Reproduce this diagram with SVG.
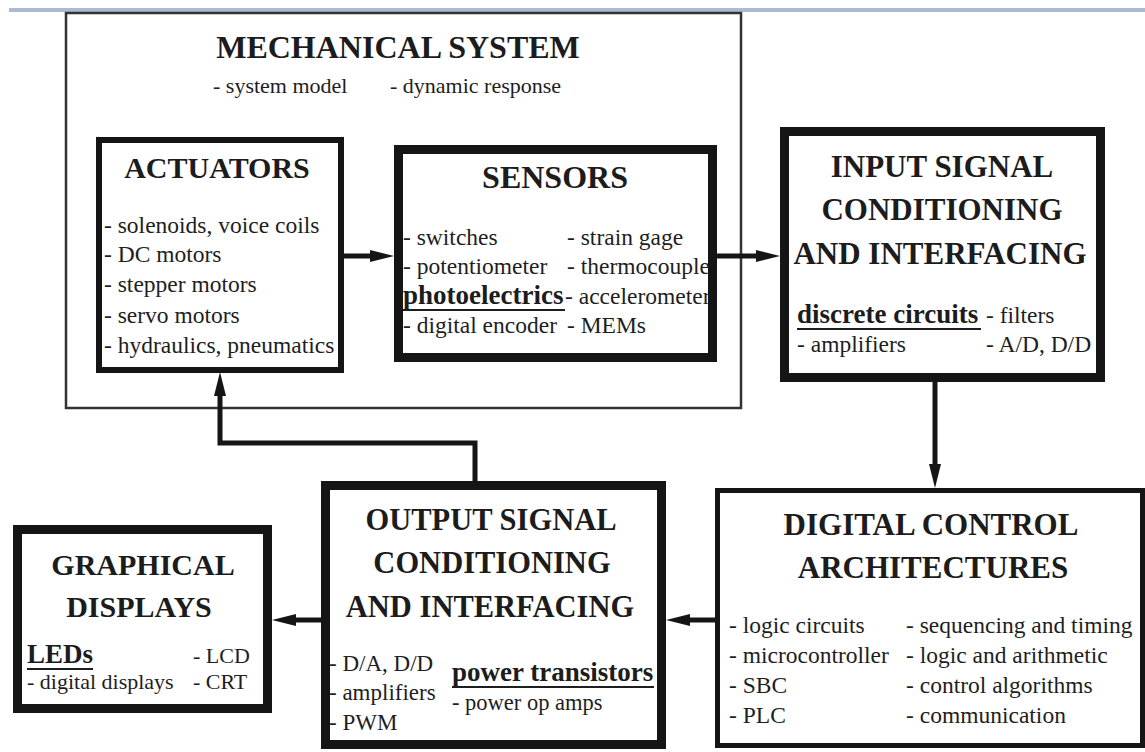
<svg xmlns="http://www.w3.org/2000/svg" width="1145" height="752" viewBox="0 0 1145 752">
<defs>
<style>
.box{fill:#ffffff;stroke:#151515}
.t{font-family:"Liberation Serif","Times New Roman",serif;font-weight:bold;fill:#1c1c1c;text-anchor:middle}
.i{font-family:"Liberation Serif","Times New Roman",serif;font-size:23.5px;fill:#1e1e1e}
.b{font-family:"Liberation Serif","Times New Roman",serif;font-weight:bold;font-size:27px;fill:#1c1c1c}
.u{stroke:#1e1e1e;stroke-width:2}
.c{fill:none;stroke:#151515;stroke-width:5}
</style>
<marker id="ah" viewBox="0 0 24 12" markerWidth="24" markerHeight="12" refX="4" refY="6" orient="auto" markerUnits="userSpaceOnUse">
<path d="M0,0 L24,6 L0,12 Z" fill="#151515"/>
</marker>
</defs>
<rect x="0" y="0" width="1145" height="752" fill="#ffffff"/>
<rect x="9" y="8" width="1136" height="4" fill="#a9bcd4"/>

<g id="mechanical-system">
<rect x="66" y="13" width="675" height="395" fill="#ffffff" stroke="#333333" stroke-width="2.5"/>
<text class="t" x="398" y="58" font-size="32">MECHANICAL SYSTEM</text>
<text class="i" x="213" y="93" style="font-size:22px">- system model</text>
<text class="i" x="390" y="93" style="font-size:22px">- dynamic response</text>
</g>

<g id="connectors">
<path class="c" d="M344,256 H374" marker-end="url(#ah)"/>
<path class="c" d="M717,256 H760" marker-end="url(#ah)"/>
<path class="c" d="M935,382 V468" marker-end="url(#ah)"/>
<path class="c" d="M715,620 H686" marker-end="url(#ah)"/>
<path class="c" d="M321,620 H292" marker-end="url(#ah)"/>
<path class="c" d="M475,481 V443 H220 V392" marker-end="url(#ah)"/>
</g>

<g id="actuators">
<rect class="box" x="99" y="140" width="242" height="230" stroke-width="6"/>
<text class="t" x="217" y="178" font-size="30">ACTUATORS</text>
<text class="i" x="104" y="233">- solenoids, voice coils</text>
<text class="i" x="104" y="262">- DC motors</text>
<text class="i" x="104" y="292">- stepper motors</text>
<text class="i" x="104" y="323">- servo motors</text>
<text class="i" x="104" y="353">- hydraulics, pneumatics</text>
</g>

<g id="sensors">
<rect class="box" x="398.5" y="149.5" width="314" height="208" stroke-width="9"/>
<text class="t" x="555" y="188" font-size="32">SENSORS</text>
<text class="i" x="403" y="245">- switches</text>
<text class="i" x="403" y="274">- potentiometer</text>
<text class="b" x="403" y="304">photoelectrics</text>
<line class="u" x1="403" y1="310" x2="565" y2="310"/>
<text class="i" x="403" y="333">- digital encoder</text>
<text class="i" x="567" y="245">- strain gage</text>
<text class="i" x="567" y="274">- thermocouple</text>
<text class="i" x="565" y="304">- accelerometer</text>
<text class="i" x="567" y="333">- MEMs</text>
</g>

<g id="input-signal">
<rect class="box" x="784.5" y="131.5" width="316" height="246" stroke-width="9"/>
<text class="t" x="942" y="177" font-size="31">INPUT SIGNAL</text>
<text class="t" x="942" y="220" font-size="31">CONDITIONING</text>
<text class="t" x="940" y="264" font-size="31">AND INTERFACING</text>
<text class="b" x="797" y="323">discrete circuits</text>
<line class="u" x1="797" y1="329" x2="981" y2="329"/>
<text class="i" x="986" y="323">- filters</text>
<text class="i" x="797" y="352">- amplifiers</text>
<text class="i" x="986" y="352">- A/D, D/D</text>
</g>

<g id="digital-control">
<rect class="box" x="717.5" y="490.5" width="425" height="255" stroke-width="5"/>
<text class="t" x="931" y="535" font-size="31">DIGITAL CONTROL</text>
<text class="t" x="933" y="578" font-size="31">ARCHITECTURES</text>
<text class="i" x="729" y="633">- logic circuits</text>
<text class="i" x="729" y="663">- microcontroller</text>
<text class="i" x="729" y="693">- SBC</text>
<text class="i" x="729" y="723">- PLC</text>
<text class="i" x="906" y="633">- sequencing and timing</text>
<text class="i" x="906" y="663">- logic and arithmetic</text>
<text class="i" x="906" y="693">- control algorithms</text>
<text class="i" x="906" y="723">- communication</text>
</g>

<g id="output-signal">
<rect class="box" x="325.5" y="485.5" width="336" height="259" stroke-width="9"/>
<text class="t" x="491" y="530" font-size="30.5">OUTPUT SIGNAL</text>
<text class="t" x="492" y="573" font-size="30.5">CONDITIONING</text>
<text class="t" x="490" y="617" font-size="30.5">AND INTERFACING</text>
<text class="i" x="329" y="671" style="font-size:23px">- D/A, D/D</text>
<text class="i" x="329" y="700" style="font-size:23px">- amplifiers</text>
<text class="i" x="329" y="730" style="font-size:23px">- PWM</text>
<text class="b" x="452" y="681">power transistors</text>
<line class="u" x1="452" y1="687" x2="654" y2="687"/>
<text class="i" x="452" y="710" style="font-size:22.5px">- power op amps</text>
</g>

<g id="graphical-displays">
<rect class="box" x="17.5" y="529.5" width="250" height="179" stroke-width="9"/>
<text class="t" x="143" y="575" font-size="30">GRAPHICAL</text>
<text class="t" x="139" y="617" font-size="30">DISPLAYS</text>
<text class="b" x="27" y="663">LEDs</text>
<line class="u" x1="27" y1="669" x2="93" y2="669"/>
<text class="i" x="193" y="663" style="font-size:22px">- LCD</text>
<text class="i" x="27" y="689" style="font-size:22px">- digital displays</text>
<text class="i" x="193" y="689" style="font-size:22px">- CRT</text>
</g>
</svg>
